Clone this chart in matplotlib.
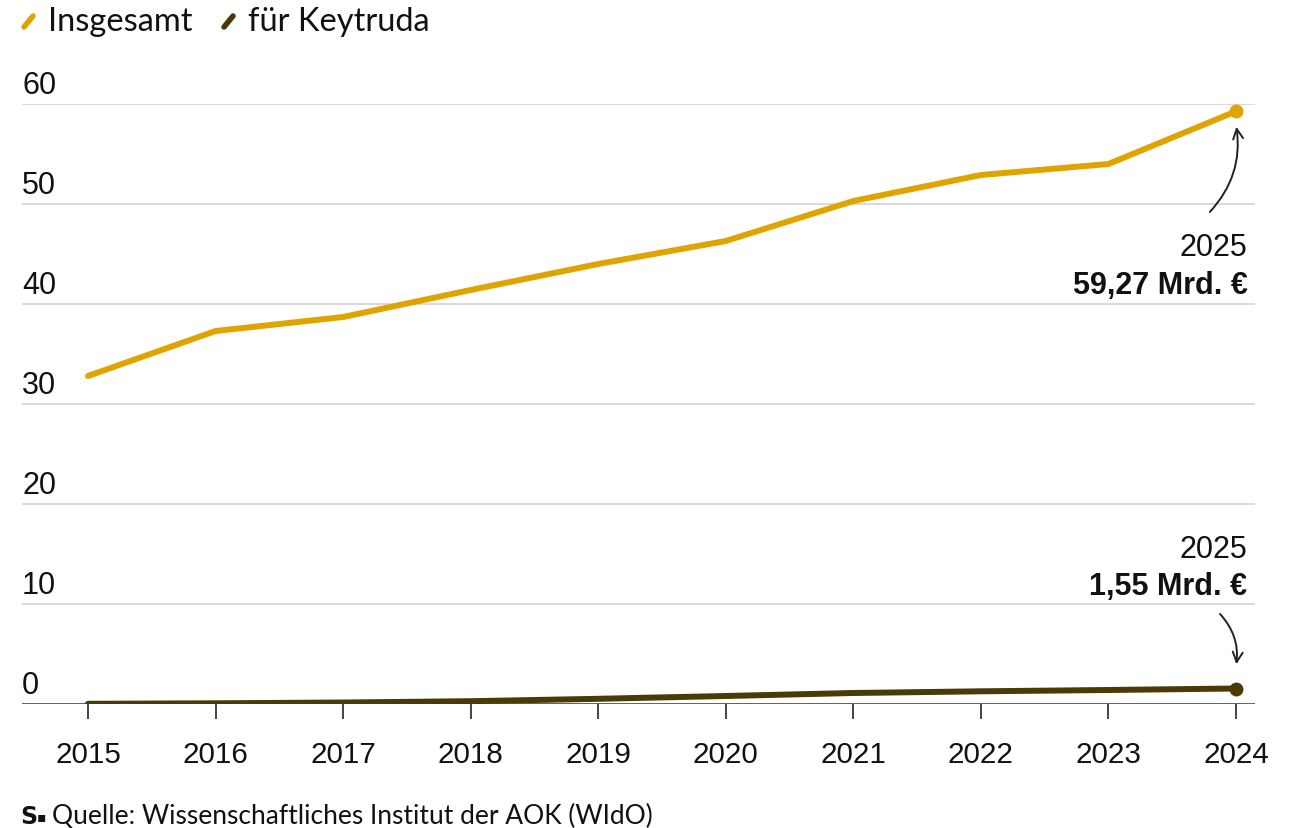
import matplotlib.pyplot as plt
from matplotlib.lines import Line2D

# Ausgaben der GKV für Arzneimittel, Mrd. Euro
years = [2015, 2016, 2017, 2018, 2019, 2020, 2021, 2022, 2023, 2024]
insgesamt = [32.8, 37.3, 38.7, 41.4, 44.0, 46.3, 50.3, 52.9, 54.0, 59.27]
keytruda = [0.02, 0.07, 0.15, 0.28, 0.52, 0.8, 1.1, 1.27, 1.4, 1.55]
y_ticks = [0, 10, 20, 30, 40, 50, 60]

GOLD = '#E0A400'
BROWN = '#4A3A08'

plt.rcParams['font.family'] = ['Liberation Sans', 'DejaVu Sans']

fig = plt.figure(figsize=(12.94, 8.29), dpi=100)
ax = fig.add_axes([22/1294, 1-705/829, (1255-22)/1294, 600/829])

ax.plot(years, insgesamt, color=GOLD, lw=4.3, solid_capstyle='round', zorder=3)
ax.plot(years[-1], insgesamt[-1], 'o', color=GOLD, ms=9, zorder=4)
ax.plot(years, keytruda, color=BROWN, lw=4.3, solid_capstyle='round', zorder=3)
ax.plot(years[-1], keytruda[-1], 'o', color=BROWN, ms=9, zorder=4)

ax.set_xlim(2014.483, 2024.149)
ax.set_ylim(0, 60)
ax.set_yticks(y_ticks)
ax.set_yticklabels([])
for t in y_ticks[1:]:
    ax.axhline(t, color='#cfcfcf', lw=1.1, zorder=1)
ax.axhline(0, color='#555555', lw=1.3, zorder=2)
for t in y_ticks:
    ax.text(0, t + 1.85, str(t), transform=ax.get_yaxis_transform(),
            ha='left', va='center', fontsize=22, color='#111111')

for s in ax.spines.values():
    s.set_visible(False)
ax.tick_params(axis='y', length=0)
ax.set_xticks(years)
ax.set_xticklabels([str(y) for y in years], fontsize=21.3, color='#111111')
ax.tick_params(axis='x', length=11, width=1.4, color='#444444', pad=15)

# Annotationen
ax.text(2024.09, 45.7, '2025', ha='right', va='center', fontsize=22, color='#111111')
ax.text(2024.09, 41.9, '59,27 Mrd. €', ha='right', va='center', fontsize=22,
        fontweight='bold', color='#111111')
ax.annotate('', xy=(years[-1], 58.0), xytext=(2023.78, 49.0),
            arrowprops=dict(arrowstyle='->', color='#222222', lw=1.4,
                            connectionstyle='arc3,rad=0.25', mutation_scale=18))
ax.text(2024.09, 15.5, '2025', ha='right', va='center', fontsize=22, color='#111111')
ax.text(2024.09, 11.8, '1,55 Mrd. €', ha='right', va='center', fontsize=22,
        fontweight='bold', color='#111111')
ax.annotate('', xy=(years[-1], 3.7), xytext=(2023.86, 9.2),
            arrowprops=dict(arrowstyle='->', color='#222222', lw=1.4,
                            connectionstyle='arc3,rad=-0.25', mutation_scale=18))

# Legende
leg_font = ['Lato', 'DejaVu Sans']
for x0, col, label in [(24, GOLD, 'Insgesamt'), (224, BROWN, 'für Keytruda')]:
    fig.add_artist(Line2D([x0/1294, (x0+9)/1294], [1-28/829, 1-17/829],
                          color=col, lw=4, solid_capstyle='round'))
    fig.text((x0+24)/1294, 1-22/829, label, ha='left', va='center',
             fontsize=23.5, family=leg_font, color='#111111')

# Quelle
fig.text(20/1294, 1-817/829, 'S', ha='left', va='center', fontsize=17,
         fontweight='bold', family=['DejaVu Sans'], color='#111111')
fig.text(37/1294, 1-817/829, '▪', ha='left', va='center', fontsize=10,
         family=['DejaVu Sans'], color='#111111')
fig.text(52/1294, 1-816/829, 'Quelle: Wissenschaftliches Institut der AOK (WIdO)',
         ha='left', va='center', fontsize=19, family=leg_font, color='#111111')

fig.savefig('out.png', dpi=100, facecolor='white')
